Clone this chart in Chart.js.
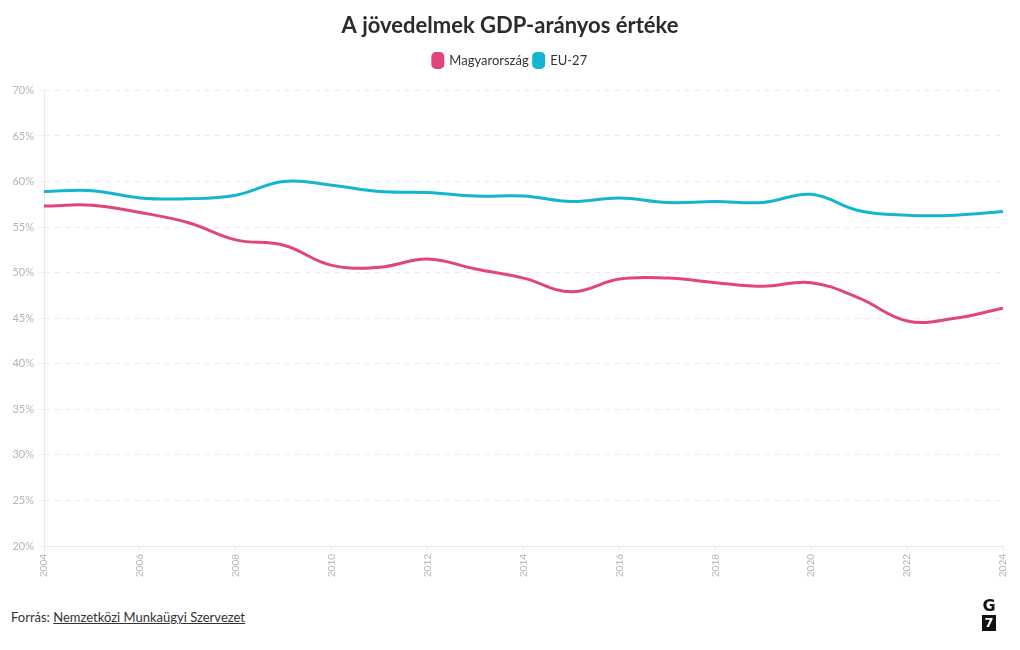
<!DOCTYPE html>
<html lang="hu">
<head>
<meta charset="utf-8">
<title>A jövedelmek GDP-arányos értéke</title>
<script src="https://cdn.jsdelivr.net/npm/chart.js@4/dist/chart.umd.min.js"></script>
<style>
    html, body { margin: 0; padding: 0; background: #fff; }
    body { width: 1020px; height: 650px; position: relative; overflow: hidden; font-family: 'Lato', 'Noto Sans', sans-serif; }
    #wrap { position: absolute; left: 0; top: 0; width: 1020px; height: 600px; }
    #source { position: absolute; left: 11px; top: 609px; font-size: 13px; color: #333; }
    #source a { color: #333; text-decoration: underline; }
    #logo { position: absolute; left: 982px; top: 599px; width: 14px; text-align: center; font-family: 'DejaVu Sans', sans-serif; font-weight: bold; }
    #logo .g { font-size: 16px; line-height: 14px; color: #111; }
    #logo .s { margin-top: 2px; width: 14px; height: 16px; background: #111; color: #fff; font-size: 13px; line-height: 16px; }
</style>
</head>
<body>
<div id="wrap"><canvas id="chart"></canvas></div>
<div id="source">Forrás: <a href="#">Nemzetközi Munkaügyi Szervezet</a></div>
<div id="logo"><div class="g">G</div><div class="s">7</div></div>
<script>
    // Évek és értékek (%)
    const years = [2004, 2005, 2006, 2007, 2008, 2009, 2010, 2011, 2012, 2013, 2014,
                   2015, 2016, 2017, 2018, 2019, 2020, 2021, 2022, 2023, 2024];
    const hungary = [57.3, 57.4, 56.6, 55.5, 53.6, 53.0, 50.8, 50.6, 51.5, 50.4, 49.4,
                     47.9, 49.3, 49.4, 48.9, 48.5, 48.9, 47.2, 44.7, 45.0, 46.1];
    const eu27 = [58.9, 59.0, 58.2, 58.1, 58.5, 60.0, 59.6, 58.9, 58.8, 58.4, 58.4,
                  57.8, 58.2, 57.7, 57.8, 57.7, 58.6, 56.8, 56.3, 56.3, 56.7];
    const seriesNames = ['Magyarország', 'EU-27'];
    const seriesColors = ['#e1457c', '#13b5d1'];

    const tickColor = '#b4b4b4';
    const gridColor = '#e9e9e9';

    const toPoints = vals => vals.map((v, i) => ({ x: years[i], y: v }));

    // hely a jelmagyarázat alatt
    const legendMargin = {
        id: 'legendMargin',
        beforeInit(chart) {
            const origFit = chart.legend.fit;
            chart.legend.fit = function fit() {
                origFit.bind(chart.legend)();
                this.height += 13;
            };
        }
    };

    const ctx = document.getElementById('chart').getContext('2d');
    new Chart(ctx, {
        type: 'line',
        data: {
            datasets: [hungary, eu27].map((vals, i) => ({
                label: seriesNames[i],
                data: toPoints(vals),
                borderColor: seriesColors[i],
                backgroundColor: seriesColors[i],
                borderWidth: 3,
                pointRadius: 0,
                tension: 0.4,
                fill: false
            }))
        },
        plugins: [legendMargin],
        options: {
            responsive: true,
            maintainAspectRatio: false,
            animation: false,
            layout: { padding: 0 },
            plugins: {
                title: {
                    display: true,
                    text: 'A jövedelmek GDP-arányos értéke',
                    color: '#2b2b2b',
                    font: { family: 'Lato', size: 22, weight: 'bold' },
                    padding: { top: 13, bottom: 9 }
                },
                legend: {
                    display: true,
                    labels: {
                        color: '#333',
                        font: { family: 'Lato', size: 13 },
                        boxWidth: 10,
                        boxHeight: 14,
                        useBorderRadius: true,
                        borderRadius: 3,
                        padding: 5
                    }
                },
                tooltip: { enabled: false }
            },
            scales: {
                x: {
                    type: 'linear',
                    min: 2004,
                    max: 2024,
                    ticks: {
                        stepSize: 2,
                        color: tickColor,
                        font: { family: 'Lato', size: 10 },
                        maxRotation: 90,
                        minRotation: 90,
                        callback: v => String(v)
                    },
                    grid: { drawOnChartArea: false, drawTicks: true, tickLength: 5, color: gridColor },
                    border: { color: gridColor },
                    afterFit: scale => {
                        scale.height = 54;
                        scale.paddingRight = 17;
                    }
                },
                y: {
                    min: 20,
                    max: 70,
                    ticks: {
                        stepSize: 5,
                        color: tickColor,
                        font: { family: 'Lato', size: 11 },
                        padding: 4,
                        callback: v => v + '%'
                    },
                    grid: { color: gridColor, drawTicks: true, tickLength: 6, tickColor: '#f4f4f4' },
                    border: { color: gridColor, dash: [5, 5] },
                    afterFit: scale => { scale.width = 44; }
                }
            }
        }
    });
</script>
</body>
</html>
